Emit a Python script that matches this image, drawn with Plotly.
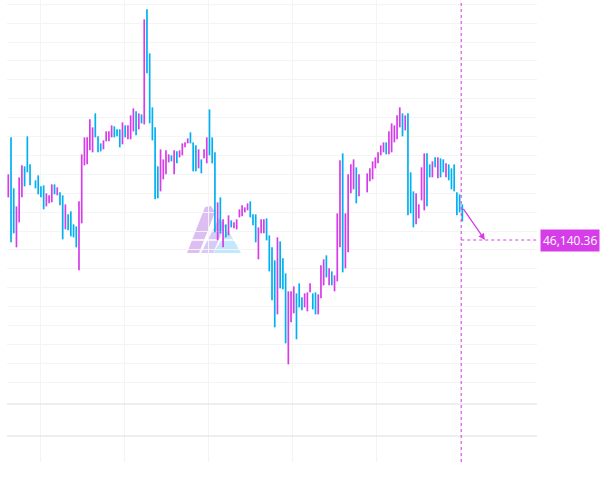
"""Graphique OHLC fin (style terminal) avec prévision fléchée et étiquette de prix."""

import plotly.graph_objects as go

# ===== DONNÉES =====
# Hauts / bas par barre (None = barre absente), direction : u = hausse, d = baisse
highs = [
    46206, 46243, 46192, 46174, 46203, 46215, 46214, 46244, 46216, None,
    46200, 46205, 46194, 46195, 46187, 46185, 46196, 46196, 46193, 46188,
    46185, 46176, 46166, 46169, 46156, 46154, 46179, 46226, 46243, 46243,
    46261, 46253, 46267, 46244, 46237, 46240, 46249, 46249, 46255, 46254,
    46251, 46251, 46258, 46255, 46255, 46265, 46272, 46269, 46267, 46266,
    46361, 46371, 46327, 46273, 46253, 46214, 46231, 46221, 46230, 46226,
    46225, 46230, 46229, 46230, 46237, 46238, 46242, 46248, 46238, 46235,
    46231, 46221, 46231, 46243, 46271, 46243, 46228, 46178, 46183, 46161,
    46156, 46165, 46160, 46158, 46161, 46171, 46175, 46173, 46177, 46179,
    46166, 46166, 46153, 46161, 46161, 46162, 46145, 46133, 46120, 46143,
    46139, 46122, 46107, 46089, 46089, 46094, 46087, 46097, 46083, 46087,
    46088, 46097, 46087, 46088, 46086, 46115, 46121, 46125, 46112, 46109,
    46105, 46167, 46220, 46227, 46167, 46206, 46216, 46221, 46213, 46206,
    None, None, 46207, 46212, 46219, 46223, 46228, 46235, 46238, 46238,
    46249, 46257, 46255, 46265, 46273, 46267, 46265, 46267, 46208, 46189,
    46187, 46176, 46213, 46227, 46227, 46216, 46219, 46223, 46223, 46222,
    46221, 46217, 46216, 46212, 46216, 46188, 46186, 46176,
]
lows = [
    46183, 46138, 46147, 46133, 46158, 46183, 46194, 46208, 46195, None,
    46192, 46186, 46183, 46171, 46174, 46177, 46178, 46186, 46185, 46175,
    46141, 46151, 46150, 46144, 46143, 46133, 46110, 46157, 46215, 46216,
    46230, 46228, 46243, 46228, 46229, 46231, 46239, 46239, 46243, 46243,
    46244, 46233, 46236, 46243, 46241, 46241, 46249, 46245, 46251, 46257,
    46256, 46307, 46257, 46240, 46181, 46182, 46189, 46201, 46206, 46218,
    46219, 46206, 46217, 46223, 46225, 46233, 46237, 46237, 46209, 46209,
    46212, 46207, 46222, 46217, 46225, 46217, 46148, 46140, 46147, 46133,
    46143, 46145, 46153, 46152, 46151, 46163, 46164, 46168, 46170, 46163,
    46155, 46138, 46121, 46147, 46147, 46140, 46109, 46080, 46053, 46066,
    46092, 46091, 46037, 46016, 46058, 46067, 46041, 46073, 46070, 46073,
    46069, 46088, 46071, 46066, 46066, 46082, 46095, 46103, 46095, 46095,
    46089, 46099, 46133, 46108, 46112, 46128, 46187, 46191, 46177, 46184,
    None, None, 46188, 46199, 46201, 46212, 46217, 46225, 46228, 46226,
    46226, 46228, 46238, 46241, 46253, 46244, 46250, 46165, 46167, 46153,
    46156, 46162, 46180, 46170, 46174, 46203, 46203, 46213, 46202, 46203,
    46208, 46203, 46200, 46191, 46189, 46165, 46168, 46159,
]
direction = "".join([
    "udduuudddx", "dddduuudud", "dudddduuuu", "uuddduuuud",
    "dduduuudud", "uddddduuuu", "duduuuuddd", "uduudddudu",
    "duduuuuuud", "dduuuddddu", "ddduuudddu", "uudduuudud",
    "uuuduuuudu", "xxuuuuuuud", "uuuuududdd", "uuuuddudud",
    "dudddddd",
])

forecast_price = 46140.36
forecast_x = 175.3  # position de la pointe de flèche (index barre)
price_label = "46,140.36"

UP_COLOR = "#d63ce8"
DOWN_COLOR = "#00b0f0"

# ===== CONSTRUCTION OHLC =====
xs, opens, hs, ls, closes = [], [], [], [], []
for i, (h, l) in enumerate(zip(highs, lows)):
    if h is None:
        continue
    up = direction[i] == "u"
    xs.append(i)
    hs.append(h)
    ls.append(l)
    opens.append(l if up else h)
    closes.append(h if up else l)

last_x = xs[-1]

fig = go.Figure()
fig.add_trace(go.Ohlc(
    x=xs, open=opens, high=hs, low=ls, close=closes,
    tickwidth=0,
    increasing=dict(line=dict(color=UP_COLOR, width=1.7)),
    decreasing=dict(line=dict(color=DOWN_COLOR, width=1.7)),
    hoverinfo="skip",
    xaxis="x", yaxis="y",
))
# sous-panneau vide (indicateur)
fig.add_trace(go.Scatter(x=[None], y=[None], xaxis="x2", yaxis="y2",
                         mode="lines", showlegend=False))

X_RANGE = [-0.48, 194.47]
Y_TOP = 46380.36
Y_RANGE = [Y_TOP - 392, Y_TOP]
GRID = "#f4f4f4"

# ===== LOGO FILIGRANE (coordonnées pixel -> papier) =====
PLOT_L, PLOT_W, PLOT_B, PLOT_H = 7, 530, 462, 462


def px_path(points):
    parts = []
    for k, (px, py) in enumerate(points):
        xp = (px - PLOT_L) / PLOT_W
        yp = (PLOT_B - py) / PLOT_H
        parts.append(("M" if k == 0 else "L") + f"{xp:.4f},{yp:.4f}")
    return " ".join(parts) + " Z"


logo = [
    ([(187, 253), (199, 253), (215, 212), (211, 206), (205, 207)], "#d3aef0", 0.8),
    ([(201, 253), (213, 253), (225, 226), (219, 218)], "#c9b8f5", 0.75),
    ([(213, 253), (241, 253), (228, 230)], "#b8e3fb", 0.85),
]
shapes = []
for pts, col, op in logo:
    shapes.append(dict(type="path", path=px_path(pts), xref="paper", yref="paper",
                       fillcolor=col, opacity=op, line=dict(width=0), layer="below"))
shapes.append(dict(type="line", xref="paper", yref="paper",
                   x0=(189 - PLOT_L) / PLOT_W, x1=(236 - PLOT_L) / PLOT_W,
                   y0=(PLOT_B - 240) / PLOT_H, y1=(PLOT_B - 240) / PLOT_H,
                   line=dict(color="white", width=1.5), layer="below"))

# lignes du sous-panneau
for lvl in [58, 26]:
    shapes.append(dict(type="line", xref="paper", yref="y2", x0=0, x1=1, y0=lvl, y1=lvl,
                       line=dict(color="#dedede", width=1)))

# réticule
cross_x = last_x - 0.4
shapes.append(dict(type="line", xref="x", yref="paper", x0=cross_x, x1=cross_x, y0=0, y1=1,
                   line=dict(color=UP_COLOR, width=1, dash="3px,3px")))
shapes.append(dict(type="line", xref="x", yref="y", x0=cross_x, x1=X_RANGE[1],
                   y0=forecast_price, y1=forecast_price,
                   line=dict(color=UP_COLOR, width=1, dash="3px,3px")))

fig.add_annotation(
    x=forecast_x, y=forecast_price, ax=last_x, ay=hs[-1] - 3,
    xref="x", yref="y", axref="x", ayref="y",
    showarrow=True, arrowhead=2, arrowsize=1, arrowwidth=1.3, arrowcolor=UP_COLOR, text="",
)
fig.add_annotation(
    x=1, xref="paper", y=forecast_price, yref="y", xanchor="left", yanchor="middle",
    xshift=3, text=price_label, showarrow=False, bgcolor=UP_COLOR, borderpad=2,
    font=dict(family="Open Sans", size=12, color="white"),
)

fig.update_layout(
    width=605, height=486,
    margin=dict(l=PLOT_L, r=605 - PLOT_L - PLOT_W, t=0, b=486 - PLOT_B),
    paper_bgcolor="white", plot_bgcolor="white",
    showlegend=False,
    shapes=shapes,
    xaxis=dict(domain=[0, 1], anchor="y", range=X_RANGE, showticklabels=False,
               showgrid=True, gridcolor=GRID, tick0=12, dtick=30.9, zeroline=False,
               rangeslider=dict(visible=False), fixedrange=True),
    yaxis=dict(domain=[70 / 462, 1], range=Y_RANGE, showticklabels=False,
               showgrid=True, gridcolor=GRID, tick0=46149.36, dtick=18.9, zeroline=False),
    xaxis2=dict(domain=[0, 1], anchor="y2", matches="x", range=X_RANGE, showticklabels=False,
                showgrid=True, gridcolor=GRID, tick0=12, dtick=30.9, zeroline=False),
    yaxis2=dict(domain=[0, 70 / 462], range=[0, 70], showticklabels=False,
                showgrid=False, zeroline=False),
)

# la page HTML ajoute une marge de 8px au body : on la retire
fig.write_html("out.html", config={"displayModeBar": False},
               post_script="document.body.style.margin='0';")
